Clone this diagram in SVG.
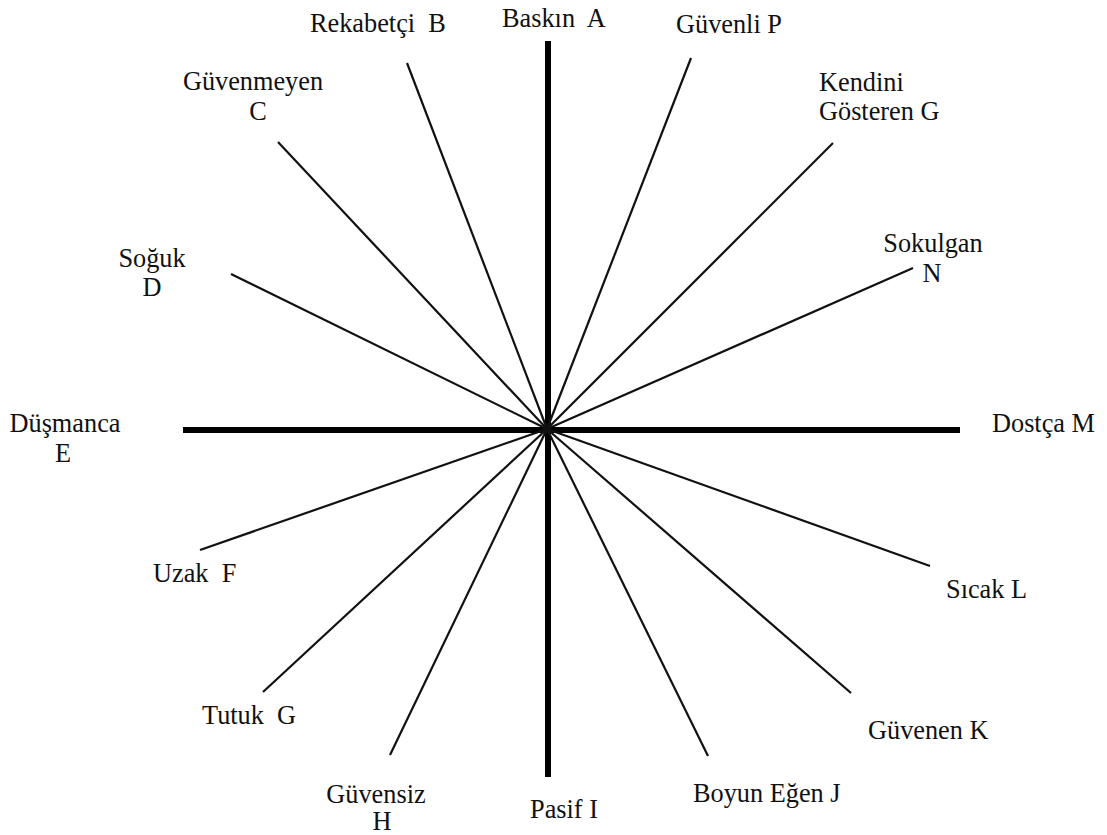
<svg xmlns="http://www.w3.org/2000/svg" width="1107" height="835" viewBox="0 0 1107 835">
<style>
text{font-family:"Liberation Serif","Times New Roman",serif;font-size:26.3px;fill:#111;white-space:pre}
.c{text-anchor:middle}
.t{stroke:#111;stroke-width:2.2;stroke-linecap:butt}
.k{stroke:#000;stroke-width:6;stroke-linecap:butt}
</style>
<rect width="1107" height="835" fill="#fff"/>
<g id="connectors">
<line class="k" x1="548" y1="41" x2="548" y2="777"/>
<line class="k" x1="183" y1="430" x2="960" y2="430"/>
<line class="t" x1="547" y1="429" x2="407" y2="63"/>
<line class="t" x1="547" y1="429" x2="278" y2="142"/>
<line class="t" x1="547" y1="429" x2="231" y2="274"/>
<line class="t" x1="547" y1="429" x2="691" y2="58"/>
<line class="t" x1="547" y1="429" x2="833" y2="143"/>
<line class="t" x1="547" y1="429" x2="913" y2="268"/>
<line class="t" x1="547" y1="429" x2="200" y2="550"/>
<line class="t" x1="547" y1="429" x2="263" y2="692"/>
<line class="t" x1="547" y1="429" x2="390" y2="755"/>
<line class="t" x1="547" y1="429" x2="708" y2="756"/>
<line class="t" x1="547" y1="429" x2="851" y2="693"/>
<line class="t" x1="547" y1="429" x2="930" y2="566"/>
</g>
<g id="nA"><text x="502" y="27" xml:space="preserve">Baskın  A</text></g>
<g id="nB"><text x="310" y="32" xml:space="preserve">Rekabetçi  B</text></g>
<g id="nC"><text x="253" y="90" class="c">Güvenmeyen</text><text x="258" y="120" class="c">C</text></g>
<g id="nD"><text x="152" y="267" class="c">Soğuk</text><text x="152" y="296" class="c">D</text></g>
<g id="nE"><text x="65" y="432" class="c">Düşmanca</text><text x="63" y="462" class="c">E</text></g>
<g id="nF"><text x="153" y="582" xml:space="preserve">Uzak  F</text></g>
<g id="nG2"><text x="202" y="724" xml:space="preserve">Tutuk  G</text></g>
<g id="nH"><text x="376" y="803" class="c">Güvensiz</text><text x="382" y="830" class="c">H</text></g>
<g id="nI"><text x="530" y="818">Pasif I</text></g>
<g id="nJ"><text x="693" y="802">Boyun Eğen J</text></g>
<g id="nK"><text x="868" y="739">Güvenen K</text></g>
<g id="nL"><text x="946" y="598">Sıcak L</text></g>
<g id="nM"><text x="992" y="432">Dostça M</text></g>
<g id="nN"><text x="933" y="252" class="c">Sokulgan</text><text x="932" y="282" class="c">N</text></g>
<g id="nG"><text x="819" y="91">Kendini</text><text x="819" y="120">Gösteren G</text></g>
<g id="nP"><text x="676" y="33">Güvenli P</text></g>
</svg>
